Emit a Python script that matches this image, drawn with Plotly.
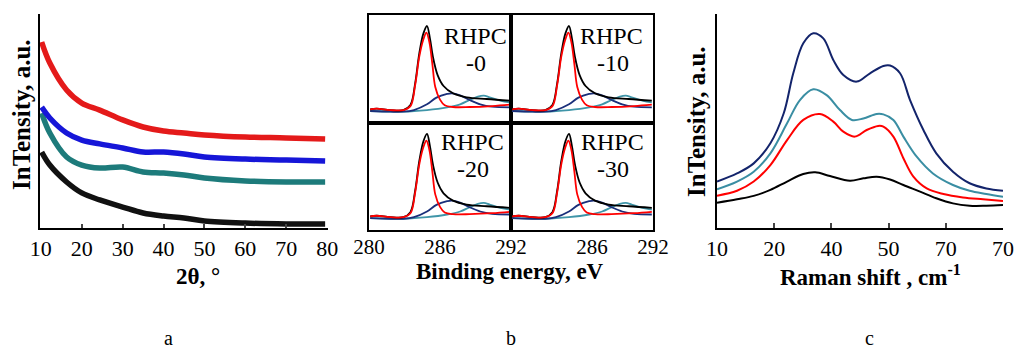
import plotly.graph_objects as go

# ---------------- Panel a : XRD ----------------
xrd_x = [10.2, 12.2, 16.3, 20, 24.4, 30, 35, 40, 45, 50, 60, 70, 79.5]
xrd_red = [86.9, 77.1, 64.5, 58.4, 55.1, 50.5, 47.2, 45.3, 44.4, 43.5, 42.5, 42.1, 41.6]
xrd_blue = [56.5, 51.4, 44.4, 41.1, 39.3, 37.4, 35.5, 35.5, 34.6, 33.2, 32.2, 31.8, 31.3]
xrd_teal = [53.7, 44.4, 33.2, 29.4, 28.0, 28.5, 26.2, 25.7, 24.8, 23.4, 22.0, 21.5, 21.5]
xrd_black = [35.5, 29.4, 21.5, 16.4, 13.1, 9.8, 7.0, 5.6, 4.7, 3.3, 2.3, 1.9, 1.9]
xrd_ticks = [10, 20, 30, 40, 50, 60, 70, 80]

# ---------------- Panel b : XPS C1s ----------------
xps_env_x = [280.1, 280.65, 281.8, 282.9, 283.5, 283.9, 284.25, 284.6, 284.9, 285.15,
             285.4, 285.8, 286.3, 287.1, 288.25, 289.95, 291.9]
xps_env_y = [12.7, 13.3, 12.0, 12.0, 16.7, 36.7, 64.5, 83.0, 89.8, 78.4,
             61.4, 44.4, 34.3, 27.5, 23.8, 22.2, 20.7]
xps_c1_x = [280.1, 280.65, 281.8, 282.9, 283.5, 283.9, 284.25, 284.6, 284.85, 285.1,
            285.35, 285.6, 286.0, 286.4, 287.1, 288.5, 290.4, 291.9]
xps_c1_y = [12.7, 13.3, 12.0, 12.0, 15.6, 35.0, 61.4, 77.5, 83.6, 75.0,
            55.0, 33.3, 21.6, 16.4, 14.8, 14.8, 15.7, 17.0]
xps_c2_x = [280.1, 281.8, 282.9, 283.8, 284.9, 285.7, 286.6, 287.0, 287.7, 288.5, 289.4, 290.4, 291.9]
xps_c2_y = [11.1, 10.5, 10.5, 12.0, 17.3, 23.5, 26.9, 27.5, 25.6, 21.3, 17.3, 15.1, 14.5]
xps_c3_x = [280.1, 282.9, 284.9, 286.6, 287.7, 288.5, 289.2, 289.7, 290.2, 291.1, 291.9]
xps_c3_y = [11.1, 10.5, 12.0, 14.5, 17.3, 21.3, 24.4, 25.3, 23.8, 20.7, 19.0]
xps_samples = ["-0", "-10", "-20", "-30"]
xps_left_ticks = [280, 286, 292]
xps_right_tickvals = [286.85, 292]
xps_right_ticktext = ["286", "292"]

# ---------------- Panel c : Raman ----------------
ram_navy_x = [10, 14.2, 17.7, 21.2, 24.0, 26.0, 28.1, 30.2, 32.3, 34.4, 36.5, 39.3, 42.1,
              44.9, 46.3, 48.4, 50.5, 53.3, 56.0, 59.5, 63.0, 66.5, 70]
ram_navy_y = [21.7, 25.5, 30.2, 39.6, 53.6, 72.3, 86.3, 91.0, 88.6, 78.5, 71.5, 68.4, 72.3,
              75.7, 75.9, 72.3, 59.8, 45.8, 34.9, 26.3, 20.9, 18.5, 17.4]
ram_teal_x = [10, 14.2, 17.7, 21.2, 24.7, 27.4, 30.2, 33.0, 35.8, 38.3, 40.7, 43.5, 44.9,
              47.0, 49.1, 51.9, 55.3, 59.5, 63.0, 66.5, 70]
ram_teal_y = [18.1, 21.7, 26.3, 34.9, 48.9, 59.8, 64.8, 62.1, 55.1, 50.5, 51.2, 53.3, 53.1,
              50.5, 42.7, 33.3, 25.5, 20.1, 17.4, 15.9, 14.6]
ram_red_x = [10, 14.2, 17.7, 21.2, 24.7, 28.1, 31.6, 34.4, 36.5, 38.9, 41.4, 43.8, 44.9,
             47.0, 49.1, 51.2, 54.0, 57.5, 61.6, 65.8, 70]
ram_red_y = [15.1, 17.4, 21.7, 29.4, 41.1, 50.5, 53.3, 49.7, 45.0, 42.7, 45.8, 47.7, 47.4,
             42.7, 32.6, 24.0, 18.5, 15.9, 14.3, 13.4, 12.6]
ram_black_x = [10, 14.2, 17.7, 21.2, 24.7, 28.1, 30.6, 33.7, 37.9, 40.7, 43.5, 46.3, 49.1,
               52.6, 56.0, 59.5, 63.0, 66.5, 70]
ram_black_y = [11.8, 13.4, 15.0, 17.8, 21.7, 25.2, 26.0, 24.3, 22.1, 23.2, 24.0, 22.7, 20.1,
               17.0, 13.9, 11.5, 10.4, 10.4, 10.7]
ram_tickvals = [10, 22, 34, 46, 58, 70]
ram_ticktext = ["10", "20", "40", "50", "70", "70"]

FONT = "Liberation Serif"
W, H = 1019, 349


def px_x(p):
    return p / W


def px_y(p):
    return 1 - p / H


fig = go.Figure()

# panel a traces
for ys, col in [(xrd_black, "#111111"), (xrd_teal, "#1d7b7b"), (xrd_blue, "#1616d8"), (xrd_red, "#e41a1a")]:
    fig.add_trace(go.Scatter(x=xrd_x, y=ys, mode="lines", line=dict(color=col, width=5.5, shape="spline"),
                             xaxis="x", yaxis="y", showlegend=False, hoverinfo="skip"))

# panel b traces (4 boxes)
for i in range(4):
    xa = "x%d" % (i + 2)
    ya = "y%d" % (i + 2)
    for xs, ys, col in [(xps_c3_x, xps_c3_y, "#3f95a8"), (xps_c2_x, xps_c2_y, "#1a2f7a"),
                        (xps_env_x, xps_env_y, "#000000"), (xps_c1_x, xps_c1_y, "#ff0000")]:
        fig.add_trace(go.Scatter(x=xs, y=ys, mode="lines", line=dict(color=col, width=1.8, shape="spline"),
                                 xaxis=xa, yaxis=ya, showlegend=False, hoverinfo="skip"))

# panel c traces
for xs, ys, col in [(ram_black_x, ram_black_y, "#000000"), (ram_red_x, ram_red_y, "#ff0000"),
                    (ram_teal_x, ram_teal_y, "#3a8ea3"), (ram_navy_x, ram_navy_y, "#13246b")]:
    fig.add_trace(go.Scatter(x=xs, y=ys, mode="lines", line=dict(color=col, width=2, shape="spline"),
                             xaxis="x6", yaxis="y6", showlegend=False, hoverinfo="skip"))

tickfont = dict(family=FONT, size=22, color="black")
tickfont_b = dict(family=FONT, size=21, color="black")
common = dict(showgrid=False, zeroline=False, linecolor="black", showline=True, automargin=False)

layout = dict(
    width=W, height=H, margin=dict(l=0, r=0, t=0, b=0, pad=0, autoexpand=False),
    showlegend=False,
    paper_bgcolor="white", plot_bgcolor="white",
    xaxis=dict(domain=[px_x(40), px_x(328)], range=[9.8, 80.2], anchor="y", tickvals=xrd_ticks,
               ticks="inside", ticklen=4, tickwidth=1.5, linewidth=2, tickfont=tickfont, **common),
    yaxis=dict(domain=[px_y(228), px_y(14)], range=[0, 100], anchor="x", tickvals=[100],
               ticks="inside", ticklen=5, tickwidth=1.5, showticklabels=False, linewidth=2, **common),
    xaxis6=dict(domain=[px_x(717), px_x(1003)], range=[10, 70], anchor="y6", tickvals=ram_tickvals,
                ticktext=ram_ticktext, ticks="inside", ticklen=5, tickwidth=1.5, linewidth=2,
                tickfont=tickfont, **common),
    yaxis6=dict(domain=[px_y(228), px_y(14)], range=[0, 100], anchor="x6", tickvals=[100],
                ticks="inside", ticklen=5, tickwidth=1.5, showticklabels=False, linewidth=2, **common),
)

box_x = [(369, 511), (511, 653), (369, 511), (511, 653)]
box_y = [(15, 123), (15, 123), (123, 230), (123, 230)]
for i in range(4):
    n = i + 2
    bottom = i >= 2
    xd = dict(domain=[px_x(box_x[i][0]), px_x(box_x[i][1])], range=[280, 292], anchor="y%d" % n,
              mirror=True, linewidth=2, ticks="", showticklabels=bottom, tickfont=tickfont_b,
              ticklabelstandoff=-3, **common)
    if i == 2:
        xd["tickvals"] = xps_left_ticks
    elif i == 3:
        xd["tickvals"] = xps_right_tickvals
        xd["ticktext"] = xps_right_ticktext
    layout["xaxis%d" % n] = xd
    layout["yaxis%d" % n] = dict(domain=[px_y(box_y[i][1]), px_y(box_y[i][0])], range=[0, 100],
                                 anchor="x%d" % n, mirror=True, linewidth=2, ticks="",
                                 showticklabels=False, **common)

fig.update_layout(**layout)


def ann(text, x, y, size=22, angle=0):
    fig.add_annotation(text=text, x=px_x(x), y=px_y(y), xref="paper", yref="paper",
                       showarrow=False, xanchor="center", yanchor="middle", textangle=angle,
                       borderpad=0, font=dict(family=FONT, size=size, color="black"))


# axis titles
ann("<b>2θ, °</b>", 198, 276, size=23)
ann("<b>InTensity, a.u.</b>", 21, 115, size=25, angle=-90)
ann("<b>Binding energy, eV</b>", 510, 271, size=23)
ann("<b>Raman shift , cm<sup>-1</sup></b>", 870, 275, size=23)
ann("<b>InTensity, a.u.</b>", 697, 122, size=25, angle=-90)

# XPS sample labels
lab_pos = [(475, 36, 476, 63), (611, 36, 613, 63), (472, 142, 473, 169), (612, 142, 613, 169)]
for s, (xr, yr, xs_, ys_) in zip(xps_samples, lab_pos):
    ann("RHPC", xr, yr, size=24)
    ann(s, xs_, ys_, size=24)

# panel letters
for letter, xpos in zip(["a", "b", "c"], [168, 511, 869]):
    ann(letter, xpos, 338, size=20)

fig.write_html("out.html", config={"displayModeBar": False},
               post_script="document.body.style.margin='0px';")
